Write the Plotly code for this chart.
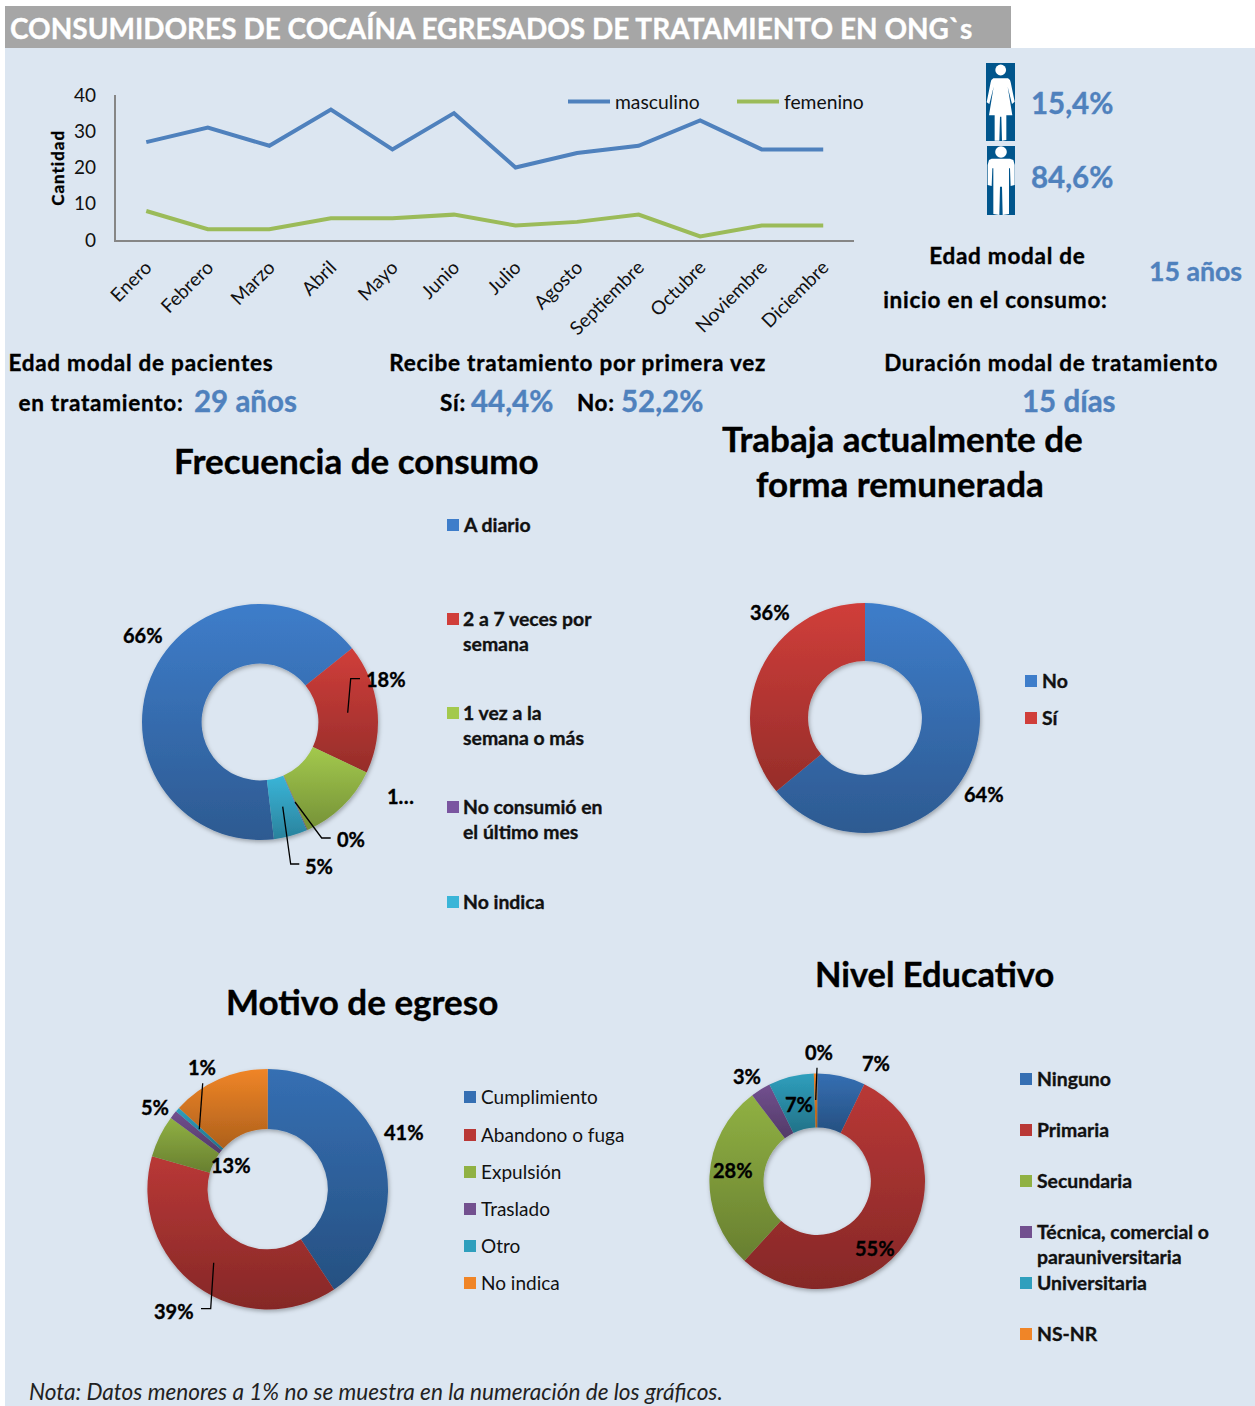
import plotly.graph_objects as go

W, H = 1255, 1406
FONT = "Lato"
BLUE_TXT = "#4f81bd"
PANEL = "#dce6f1"

meses = ["Enero", "Febrero", "Marzo", "Abril", "Mayo", "Junio", "Julio", "Agosto",
         "Septiembre", "Octubre", "Noviembre", "Diciembre"]
masculino = [27, 31, 26, 36, 25, 35, 20, 24, 26, 33, 25, 25]
femenino = [8, 3, 3, 6, 6, 7, 4, 5, 7, 1, 4, 4]

frec_cats = ["A diario", "2 a 7 veces por<br>semana", "1 vez a la<br>semana o más",
             "No consumió en<br>el último mes", "No indica"]
frec_vals = [66.2, 17.8, 11.4, 0.1, 4.6]
frec_cols = ["#3e7dca", "#d03e3a", "#a3c94d", "#7a55a0", "#3ab5d8"]
frec_lbls = ["66%", "18%", "1…", "0%", "5%"]

trab_cats = ["No", "Sí"]
trab_vals = [64, 36]
trab_cols = ["#3e7dca", "#d03e3a"]
trab_lbls = ["64%", "36%"]

mot_cats = ["Cumplimiento", "Abandono o fuga", "Expulsión", "Traslado", "Otro", "No indica"]
mot_vals = [40.7, 38.7, 5.7, 1.1, 0.6, 13.2]
mot_cols = ["#356fb3", "#b93836", "#90b143", "#72508f", "#2f9fbd", "#f08527"]
mot_lbls = ["41%", "39%", "5%", "1%", "13%"]

edu_cats = ["Ninguno", "Primaria", "Secundaria", "Técnica, comercial o<br>parauniversitaria",
            "Universitaria", "NS-NR"]
edu_vals = [7.2, 54.6, 27.9, 3.0, 6.8, 0.5]
edu_cols = ["#356fb3", "#b93836", "#90b143", "#72508f", "#2f9fbd", "#f08527"]
edu_lbls = ["7%", "55%", "28%", "3%", "7%", "0%"]


def px(x):
    return x / W


def py(y):
    return 1 - y / H


annotations, shapes = [], []


def text(s, x, y, size, color="#000", bold=True, italic=False, anchor="center"):
    if bold:
        s = f"<b>{s}</b>"
    if italic:
        s = f"<i>{s}</i>"
    annotations.append(dict(text=s, x=px(x), y=py(y - 1), xref="paper", yref="paper", showarrow=False,
                            xanchor=anchor, yanchor="middle", align="center" if anchor == "center" else "left",
                            font=dict(family=FONT, size=size, color=color)))


def rect(x0, y0, x1, y1, color, layer="below"):
    shapes.append(dict(type="rect", xref="paper", yref="paper", x0=px(x0), x1=px(x1), y0=py(y0), y1=py(y1),
                       fillcolor=color, line=dict(width=0), layer=layer))


def poly(pts, color="#000", width=1.3):
    d = "M" + " L".join(f"{px(a):.5f},{py(b):.5f}" for a, b in pts)
    shapes.append(dict(type="path", xref="paper", yref="paper", path=d,
                       line=dict(color=color, width=width), layer="above"))


def icon(d_pts, ox=960, oy=50):
    d = "M" + " L".join(f"{px(ox + a / 3):.5f},{py(oy + b / 3):.5f}" for a, b in d_pts) + " Z"
    shapes.append(dict(type="path", xref="paper", yref="paper", path=d, fillcolor="#ffffff",
                       line=dict(width=0), layer="above"))


def circle(cx, cy, r):
    shapes.append(dict(type="circle", xref="paper", yref="paper", x0=px(cx - r), x1=px(cx + r),
                       y0=py(cy - r), y1=py(cy + r), fillcolor="#ffffff", line=dict(width=0), layer="above"))


# background and title band
rect(5, 48, 1255, 1406, PANEL)
rect(5, 6, 1011, 48, "#a6a6a6")
text("CONSUMIDORES DE COCAÍNA EGRESADOS DE TRATAMIENTO EN ONG`s", 491, 29, 28, "#ffffff")

# pictograms
rect(986, 63, 1015, 141, "#00558c", "above")
rect(987, 146, 1015, 215, "#00558c", "above")
circle(1000.7, 70, 5.4)
icon([(100, 85), (144, 85), (150, 90), (152, 97), (164, 155), (156, 162), (143, 110), (157, 196), (139, 196),
      (139, 270), (126, 272), (124, 200), (120, 200), (118, 272), (104, 272), (104, 196), (87, 196), (101, 110),
      (88, 162), (80, 157), (92, 97), (94, 90)])
circle(1001, 152, 5.8)
icon([(95, 326), (150, 326), (160, 330), (164, 345), (164, 405), (152, 408), (150, 355), (147, 355), (147, 492),
      (128, 495), (126, 410), (120, 410), (118, 495), (100, 492), (100, 355), (97, 355), (95, 408), (83, 405),
      (83, 345), (87, 330)])

# headline figures
BODY = 22.5
NUM = 29.5
text("15,4%", 1072, 103.5, NUM, BLUE_TXT)
text("84,6%", 1072, 178, NUM, BLUE_TXT)
text("Edad modal de", 1007, 256, BODY)
text("inicio en el consumo:", 995, 300, BODY)
text("15 años", 1195, 272, 26.7, BLUE_TXT)
text("Edad modal de pacientes", 141, 363, BODY)
text("en tratamiento:", 101, 403, BODY)
text("29 años", 245, 401, NUM, BLUE_TXT)
text("Recibe tratamiento por primera vez", 577, 363, BODY)
text("Sí:", 453, 403, BODY)
text("44,4%", 512, 401, NUM, BLUE_TXT)
text("No:", 596, 403, BODY)
text("52,2%", 662, 401, NUM, BLUE_TXT)
text("Duración modal de tratamiento", 1051, 363, BODY)
text("15 días", 1069, 401, NUM, BLUE_TXT)

# chart titles
text("Frecuencia de consumo", 356, 461, 35)
text("Trabaja actualmente de", 902, 439, 35)
text("forma remunerada", 900, 484, 35)
text("Motivo de egreso", 362, 1002, 35)
text("Nivel Educativo", 934, 974, 34.4)

text("Cantidad", 57, 169, 17)
annotations[-1]["textangle"] = -90

text("Nota: Datos menores a 1% no se muestra en la numeración de los gráficos.", 27, 1392, 22.6, "#222", False, True, "left")


def legend(cats, cols, ys, sw_x, tx_x, bold=True, size=19.4):
    for c, col, y in zip(cats, cols, ys):
        rect(sw_x, y - 6, sw_x + 12, y + 6, col, "above")
        lines = c.split("<br>")
        for i, ln in enumerate(lines):
            text(ln, tx_x - 2, y + i * 25.5, size, "#111", bold, False, "left")


legend(frec_cats, frec_cols, [525, 619, 713, 807, 902], 447, 463)
legend(trab_cats, trab_cols, [681, 718], 1025, 1042)
legend(mot_cats, mot_cols, [1097, 1135, 1172, 1209, 1246, 1283], 464, 481, False, 19)
legend(edu_cats, edu_cols, [1079, 1130, 1181, 1232, 1283, 1334], 1020, 1037)

# donut data labels
for s, x, y in zip(frec_lbls, [143, 386, 400, 351, 319], [636, 680, 797, 840, 867]):
    text(s, x, y, 20)
for s, x, y in zip(trab_lbls, [984, 770], [795, 613]):
    text(s, x, y, 20)
for s, x, y in zip(mot_lbls, [404, 174, 155, 202, 231], [1133, 1312, 1108, 1068, 1166]):
    text(s, x, y, 20)
for s, x, y in zip(edu_lbls, [876, 875, 733, 747, 799, 819], [1064, 1249, 1171, 1077, 1105, 1053]):
    text(s, x, y, 20)

# leader lines
poly([(347.7, 712.7), (350.7, 678.7), (360, 678.7)])
poly([(295, 802), (321.7, 838), (330.7, 838)])
poly([(282.7, 806.7), (290.7, 864), (299.3, 864)])
poly([(202.7, 1083.3), (199.3, 1129.3)])
poly([(213.7, 1262.7), (210.7, 1308.7), (201, 1308.7)])
poly([(817, 1067.7), (815.7, 1100)])

fig = go.Figure()
fig.add_trace(go.Scatter(x=meses, y=masculino, name="masculino", mode="lines",
                         line=dict(color="#4f81bd", width=4)))
fig.add_trace(go.Scatter(x=meses, y=femenino, name="femenino", mode="lines",
                         line=dict(color="#9bbb59", width=4)))


def donut(name, cats, vals, cols, cx, cy, r, hole, rotation):
    fig.add_trace(go.Pie(name=name, labels=[c.replace("<br>", " ") for c in cats], values=vals, sort=False,
                         direction="clockwise", rotation=rotation, hole=hole, textinfo="none",
                         marker=dict(colors=cols, line=dict(width=0)), showlegend=False,
                         domain=dict(x=[px(cx - r), px(cx + r)], y=[py(cy + r), py(cy - r)])))


donut("Frecuencia de consumo", frec_cats, frec_vals, frec_cols, 260, 722, 118, 0.495, 173.2)
donut("Trabaja", trab_cats, trab_vals, trab_cols, 865, 718, 115, 0.495, 0)
donut("Motivo de egreso", mot_cats, mot_vals, mot_cols, 267.7, 1189.2, 120.3, 0.5, 0)
donut("Nivel Educativo", edu_cats, edu_vals, edu_cols, 817.2, 1181.2, 107.8, 0.498, 0)

fig.update_layout(
    width=W, height=H, margin=dict(l=0, r=0, t=0, b=0, autoexpand=False), autosize=False,
    paper_bgcolor="#ffffff", plot_bgcolor="rgba(0,0,0,0)",
    font=dict(family=FONT, color="#111"),
    annotations=annotations, shapes=shapes,
    hovermode=False,
    legend=dict(orientation="h", x=px(563), y=py(102), xanchor="left", yanchor="middle",
                bgcolor="rgba(0,0,0,0)", font=dict(size=19.3, family=FONT, color="#111"),
                itemwidth=42, entrywidth=112, entrywidthmode="pixels", traceorder="normal"),
    xaxis=dict(domain=[px(115.5), px(854)], range=[-0.5, 11.5], type="category", showgrid=False, zeroline=False,
               showline=True, linecolor="#868686", linewidth=1.5, tickangle=-45, ticks="",
               tickfont=dict(size=19, family=FONT, color="#111"), ticklabelstandoff=7, anchor="y"),
    yaxis=dict(domain=[py(240), py(95)], range=[0, 40], dtick=10, showgrid=False, zeroline=False,
               showline=True, linecolor="#868686", linewidth=1.5, ticks="",
               tickfont=dict(size=19, family=FONT, color="#111"), ticklabelstandoff=14, anchor="x"),
)

POST = r"""
document.documentElement.style.margin='0';
document.documentElement.style.overflow='hidden';
document.body.style.margin='0';
document.body.style.overflow='hidden';
var gd=document.getElementById('{plot_id}');
var svg=gd.querySelector('.main-svg');
var NS='http://www.w3.org/2000/svg';
var defs=svg.querySelector('defs');
var f=document.createElementNS(NS,'filter');
f.setAttribute('id','dshadow');f.setAttribute('x','-10%');f.setAttribute('y','-10%');
f.setAttribute('width','120%');f.setAttribute('height','120%');
f.innerHTML='<feDropShadow dx="1" dy="2" stdDeviation="2" flood-color="#000" flood-opacity="0.3"/>';
defs.appendChild(f);
var n=0;
gd.querySelectorAll('.pielayer .trace').forEach(function(t){
  t.setAttribute('filter','url(#dshadow)');
  t.querySelectorAll('path.surface').forEach(function(p){
    var c=p.style.fill||p.getAttribute('fill');
    var m=c.match(/[\d.]+/g).map(Number);
    var k=0.72;
    var dark='rgb('+Math.round(m[0]*k)+','+Math.round(m[1]*k)+','+Math.round(m[2]*k)+')';
    var g=document.createElementNS(NS,'linearGradient');
    var id='sg'+(n++);
    g.setAttribute('id',id);g.setAttribute('x1','0');g.setAttribute('y1','0');g.setAttribute('x2','0');g.setAttribute('y2','1');
    g.innerHTML='<stop offset="0" stop-color="'+c+'"/><stop offset="1" stop-color="'+dark+'"/>';
    defs.appendChild(g);
    p.style.fill='url(#'+id+')';
  });
});
gd.querySelectorAll('.annotation-text').forEach(function(t){
  var fs=parseFloat(t.style.fontSize);
  if(fs===22.5){t.style.letterSpacing='0.75px';}
  if(fs===17){t.style.letterSpacing='1px';}
  if(t.querySelector('[style*="bold"]')||t.innerHTML.indexOf('bold')>=0){
    t.style.stroke=t.style.fill;t.style.strokeWidth='0.35px';
  }
});
"""

fig.write_html("out.html", post_script=POST, config=dict(displayModeBar=False, responsive=False))
